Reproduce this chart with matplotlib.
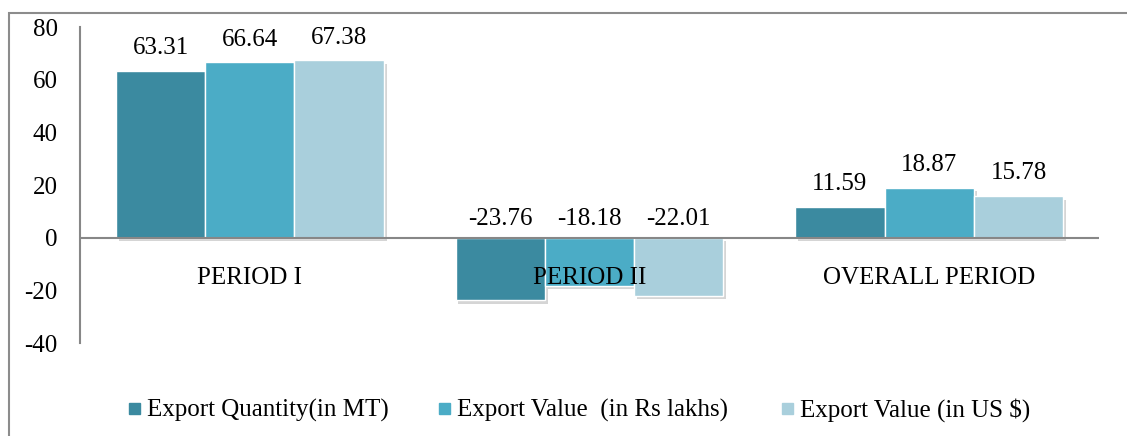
"""Export growth rates by period: grouped bar chart."""

import matplotlib.pyplot as plt
import matplotlib.patheffects as pe
import numpy as np
from matplotlib.patches import Rectangle

periods = ["PERIOD I", "PERIOD II", "OVERALL PERIOD"]
series_names = [
    "Export Quantity(in MT)",
    "Export Value  (in Rs lakhs)",
    "Export Value (in US $)",
]
export_quantity = [63.31, -23.76, 11.59]
export_value_rs = [66.64, -18.18, 18.87]
export_value_usd = [67.38, -22.01, 15.78]
y_ticks = [-40, -20, 0, 20, 40, 60, 80]

colors = ["#3b8aa0", "#4bacc6", "#a9cfdc"]
axis_grey = "#878787"
fs = 18
W, H = 1127, 436

plt.rcParams["font.family"] = ["Liberation Serif", "DejaVu Serif"]
plt.rcParams["axes.unicode_minus"] = False

fig = plt.figure(figsize=(W / 100, H / 100), dpi=100)
ax = fig.add_axes([80 / W, 1 - 343 / H, 1019 / W, 316 / H])

x = np.arange(len(periods))
width = 0.263
shadow = [pe.SimplePatchShadow(offset=(2, -2.5), shadow_rgbFace="#777777", alpha=0.3), pe.Normal()]

all_series = [export_quantity, export_value_rs, export_value_usd]
for i, (vals, name, col) in enumerate(zip(all_series, series_names, colors)):
    bars = ax.bar(x + (i - 1) * width, vals, width, color=col, edgecolor="white",
                  linewidth=1.0, label=name, zorder=3)
    for b in bars:
        b.set_path_effects(shadow)
    for xi, v in zip(x + (i - 1) * width, vals):
        if v >= 0:
            ax.annotate(f"{v:.2f}", (xi, v), xytext=(0, 12), textcoords="offset points",
                        ha="center", va="baseline", fontsize=fs)
        else:
            ax.annotate(f"{v:.2f}", (xi, 0), xytext=(0, 9), textcoords="offset points",
                        ha="center", va="baseline", fontsize=fs)

for xi, lab in zip(x, periods):
    ax.text(xi, -15.3, lab, ha="center", va="center", fontsize=fs, zorder=5)

ax.axhline(0, color=axis_grey, lw=1.5, zorder=4)
ax.set_xlim(-0.5, 2.5)
ax.set_ylim(-40, 80)
ax.set_yticks(y_ticks)
ax.set_xticks([])
ax.tick_params(axis="y", length=0, pad=16, labelsize=fs)
for s in ["top", "right", "bottom"]:
    ax.spines[s].set_visible(False)
ax.spines["left"].set_color(axis_grey)
ax.spines["left"].set_linewidth(1.5)

# legend drawn by hand so all three labels share one baseline
legend_text_x = [147, 457, 800]
for tx, name, col in zip(legend_text_x, series_names, colors):
    fig.add_artist(Rectangle(((tx - 18) / W, 1 - 414 / H), 11 / W, 11 / H,
                             transform=fig.transFigure, color=col))
    fig.text(tx / W, 1 - 417 / H, name, fontsize=fs, ha="left", va="baseline")

fig.add_artist(Rectangle((9 / W, -0.1), 1.1, 0.1 + 1 - 13 / H, transform=fig.transFigure,
                         fill=False, edgecolor="#8c8c8c", lw=1.5, clip_on=False))

fig.savefig("out.png", dpi=100)
